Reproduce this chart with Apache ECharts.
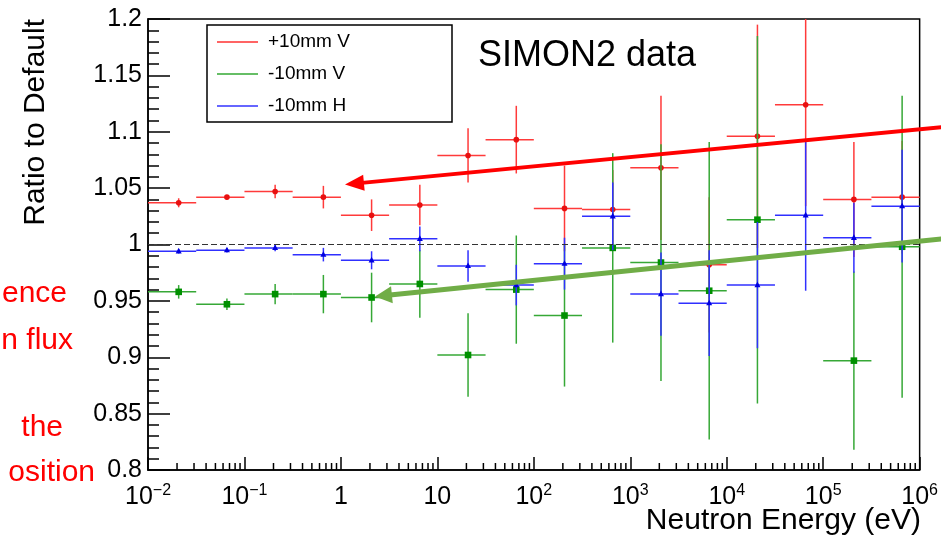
<!DOCTYPE html>
<html>
<head>
<meta charset="utf-8">
<script src="https://cdn.jsdelivr.net/npm/echarts@6/dist/echarts.min.js"></script>
<style>
  html, body { margin: 0; padding: 0; background: #fff; }
  #myChart { width: 941px; height: 539px; }
</style>
</head>
<body>
<div id="myChart"></div>
<script>
  // bin edges in eV, two bins per decade
  let binEdges = [0.01, 0.0316, 0.1, 0.316, 1, 3.16, 10, 31.6, 100, 316, 1000, 3162,
    10000, 31623, 100000, 316228, 1000000];
  // points are drawn at the middle of each bin
  let binCenters = [0.0208, 0.0658, 0.208, 0.658, 2.08, 6.58, 20.8, 65.8, 208, 658,
    2081, 6581, 20811, 65811, 208114, 658114];

  // +10mm V
  let upV = [1.037, 1.042, 1.047, 1.042, 1.026, 1.035, 1.079, 1.093, 1.032, 1.031,
    1.068, 0.982, 1.096, 1.124, 1.040, 1.042];
  let upVErr = [0.004, 0.002, 0.006, 0.010, 0.014, 0.018, 0.024, 0.030, 0.038, 0.035,
    0.064, 0.060, 0.099, 0.090, 0.051, 0.050];
  // -10mm V (no point in the 3e4-1e5 bin)
  let downV = [0.958, 0.947, 0.956, 0.956, 0.953, 0.965, 0.902, 0.960, 0.937, 0.997,
    0.984, 0.959, 1.022, null, 0.897, 0.998];
  let downVErr = [0.006, 0.005, 0.009, 0.017, 0.022, 0.030, 0.037, 0.048, 0.063, 0.084,
    0.105, 0.132, 0.163, null, 0.079, 0.134];
  // -10mm H
  let downH = [0.994, 0.995, 0.997, 0.991, 0.986, 1.005, 0.981, 0.964, 0.983, 1.025,
    0.956, 0.948, 0.964, 1.026, 1.006, 1.034];
  let downHErr = [0.002, 0.002, 0.003, 0.006, 0.008, 0.011, 0.014, 0.018, 0.023, 0.030,
    0.037, 0.047, 0.056, 0.067, 0.031, 0.050];

  let seriesNames = ['+10mm V', '-10mm V', '-10mm H'];
  let decades = [0.01, 0.1, 1, 10, 100, 1000, 10000, 100000];
  let minorSteps = [2, 3, 4, 5, 6, 7, 8, 9];

  const FONT = 'Liberation Sans';

  function makeData(vals, errs) {
    let out = [];
    vals.forEach(function (v, i) {
      if (v == null) return;
      out.push([binCenters[i], v, binEdges[i], binEdges[i + 1], errs[i]]);
    });
    return out;
  }

  function errorBars(marker, lineColor, markColor) {
    return function (params, api) {
      let y = api.value(1), e = api.value(4);
      let c = api.coord([api.value(0), y]);
      let lo = api.coord([api.value(2), y]);
      let hi = api.coord([api.value(3), y]);
      let top = api.coord([api.value(0), y + e]);
      let bot = api.coord([api.value(0), y - e]);
      let ls = { stroke: lineColor, lineWidth: 1.5 };
      let shape;
      if (marker === 'circle') {
        shape = { type: 'circle', shape: { cx: c[0], cy: c[1], r: 2.8 }, style: { fill: markColor } };
      } else if (marker === 'square') {
        shape = { type: 'rect', shape: { x: c[0] - 3.3, y: c[1] - 3.3, width: 6.6, height: 6.6 }, style: { fill: markColor } };
      } else {
        shape = { type: 'polygon', shape: { points: [[c[0], c[1] - 3.5], [c[0] + 3, c[1] + 2.2], [c[0] - 3, c[1] + 2.2]] }, style: { fill: markColor } };
      }
      return {
        type: 'group',
        children: [
          { type: 'line', shape: { x1: lo[0], y1: lo[1], x2: hi[0], y2: hi[1] }, style: ls },
          { type: 'line', shape: { x1: top[0], y1: top[1], x2: bot[0], y2: bot[1] }, style: ls },
          shape
        ]
      };
    };
  }

  function arrow(tail, tip, width, color, len, half) {
    let dx = tip[0] - tail[0], dy = tip[1] - tail[1];
    let d = Math.sqrt(dx * dx + dy * dy);
    let ux = dx / d, uy = dy / d;
    let bx = tip[0] - ux * len, by = tip[1] - uy * len;
    return [
      { type: 'line', shape: { x1: tail[0], y1: tail[1], x2: bx + ux * 2, y2: by + uy * 2 }, style: { stroke: color, lineWidth: width }, z: 10 },
      { type: 'polygon', shape: { points: [tip, [bx - uy * half, by + ux * half], [bx + uy * half, by - ux * half]] }, style: { fill: color }, z: 10 }
    ];
  }

  let myChart = echarts.init(document.getElementById('myChart'));

  let minorData = [];
  decades.forEach(function (d) {
    minorSteps.forEach(function (m) { minorData.push([d * m, 0.8]); });
  });

  let sideTexts = [
    { text: 'ence', x: 67, y: 303 },
    { text: 'n flux', x: 73, y: 350 },
    { text: 'the', x: 63, y: 437 },
    { text: 'osition', x: 95, y: 482 }
  ];

  myChart.setOption({
    animation: false,
    textStyle: { fontFamily: FONT },
    grid: {
      left: 148, right: 20, top: 19, bottom: 69,
      show: true, borderColor: '#000', borderWidth: 1.5
    },
    legend: {
      orient: 'vertical',
      left: 217, top: 26,
      padding: 0,
      itemGap: 0,
      icon: 'rect',
      itemWidth: 41,
      itemHeight: 1.5,
      data: seriesNames,
      textStyle: { fontSize: 19, color: '#000', lineHeight: 32, padding: [0, 0, 0, 5], fontFamily: FONT }
    },
    xAxis: {
      type: 'log',
      logBase: 10,
      min: 0.01,
      max: 1000000,
      splitNumber: 8,
      axisLine: { lineStyle: { color: '#000', width: 1.5 } },
      axisTick: { inside: true, length: 13, lineStyle: { color: '#000', width: 1.5 } },
      splitLine: { show: false },
      axisLabel: {
        margin: 13,
        color: '#000',
        showMinLabel: true,
        showMaxLabel: true,
        formatter: function (v) {
          let e = Math.round(Math.log10(v));
          if (e === 0) return '{b|1}';
          if (e === 1) return '{b|10}';
          return '{b|10}{s|' + (e < 0 ? '\u2212' + (-e) : e) + '}';
        },
        rich: {
          b: { fontSize: 25, lineHeight: 28, fontFamily: FONT, color: '#000' },
          s: { fontSize: 16, lineHeight: 16, verticalAlign: 'top', fontFamily: FONT, color: '#000' }
        }
      }
    },
    yAxis: {
      type: 'value',
      min: 0.8,
      max: 1.2,
      interval: 0.05,
      axisLine: { show: true, lineStyle: { color: '#000', width: 1.5 } },
      axisTick: { show: true, inside: true, length: 22, lineStyle: { color: '#000', width: 1.5 } },
      minorTick: { show: true, splitNumber: 5, length: 11, lineStyle: { color: '#000', width: 1.5 } },
      splitLine: { show: false },
      axisLabel: { margin: 6, fontSize: 25, color: '#000', fontFamily: FONT }
    },
    series: [
      {
        name: seriesNames[0],
        type: 'custom',
        clip: true,
        itemStyle: { color: '#ff3030' },
        renderItem: errorBars('circle', '#ff3a3a', '#e81010'),
        encode: { x: 0, y: 1 },
        data: makeData(upV, upVErr),
        markLine: {
          silent: true,
          symbol: 'none',
          label: { show: false },
          lineStyle: { color: '#333', type: [6, 3], width: 1.2 },
          data: [{ yAxis: 1 }]
        }
      },
      {
        name: seriesNames[1],
        type: 'custom',
        clip: true,
        itemStyle: { color: '#33a833' },
        renderItem: errorBars('square', '#36a836', '#009000'),
        encode: { x: 0, y: 1 },
        data: makeData(downV, downVErr)
      },
      {
        name: seriesNames[2],
        type: 'custom',
        clip: true,
        itemStyle: { color: '#3333ff' },
        renderItem: errorBars('triangle', '#3030ff', '#0000e0'),
        encode: { x: 0, y: 1 },
        data: makeData(downH, downHErr)
      },
      {
        // minor log ticks on the energy axis
        name: 'minorTicks',
        type: 'custom',
        silent: true,
        renderItem: function (params, api) {
          let p = api.coord([api.value(0), api.value(1)]);
          return { type: 'line', shape: { x1: p[0], y1: p[1], x2: p[0], y2: p[1] - 7 }, style: { stroke: '#000', lineWidth: 1.5 } };
        },
        encode: { x: 0, y: 1 },
        data: minorData
      }
    ],
    graphic: [
      { type: 'rect', shape: { x: 207, y: 25, width: 245, height: 97 }, style: { fill: 'transparent', stroke: '#000', lineWidth: 1.5 } },
      { type: 'text', x: 478, y: 67 - 11, style: { text: 'SIMON2 data', font: '36px ' + FONT, fill: '#000', textVerticalAlign: 'middle' } },
      { type: 'text', x: 36, y: 19, rotation: Math.PI / 2, style: { text: 'Ratio to Default', font: '30px ' + FONT, fill: '#000', textAlign: 'right', textVerticalAlign: 'middle' } },
      { type: 'text', x: 921, y: 530 - 9.3, style: { text: 'Neutron Energy (eV)', font: '30px ' + FONT, fill: '#000', textAlign: 'right', textVerticalAlign: 'middle' } }
    ].concat(sideTexts.map(function (t) {
      return { type: 'text', x: t.x, y: t.y - 9.3, style: { text: t.text, font: '30px ' + FONT, fill: '#ff0000', textAlign: 'right', textVerticalAlign: 'middle' } };
    })).concat(arrow([950, 126.5], [345, 184.5], 4, '#ff0000', 19, 8))
      .concat(arrow([950, 238], [375, 296.5], 5, '#70ad47', 17, 8.5))
  });
</script>
</body>
</html>
